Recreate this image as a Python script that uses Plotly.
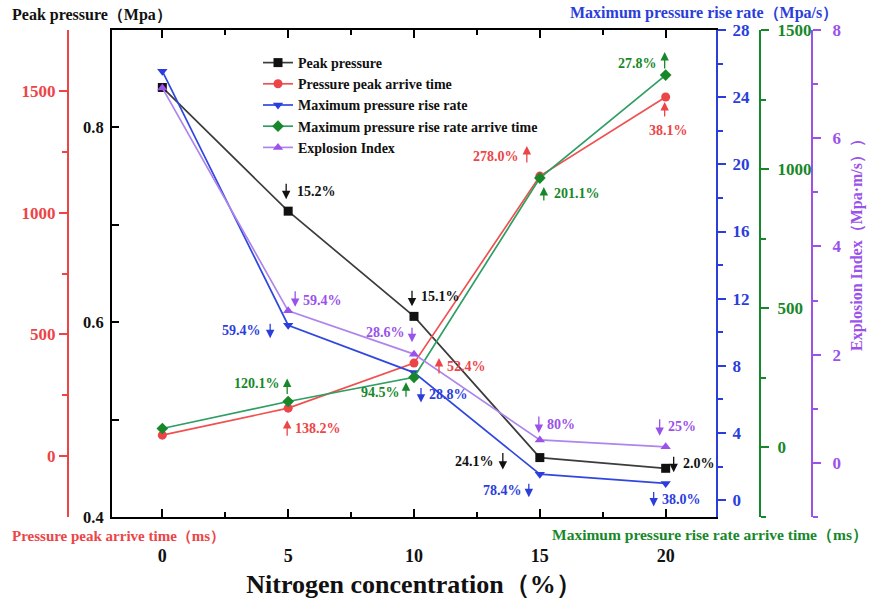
import plotly.graph_objects as go

# ---------------- data ----------------
nitrogen = [0, 5, 10, 15, 20]
peak_pressure = [0.841, 0.714, 0.606, 0.461, 0.450]
peak_time = [86, 197, 382, 1150, 1475]
max_rise_rate = [25.55, 10.42, 7.6, 1.55, 1.0]
rise_time = [68, 165, 252, 968, 1338]
explosion_index = [6.93, 2.81, 2.01, 0.425, 0.296]

peak_labels = ["", "15.2%", "15.1%", "24.1%", "2.0%"]
time_labels = ["", "138.2%", "52.4%", "278.0%", "38.1%"]
rate_labels = ["", "59.4%", "28.8%", "78.4%", "38.0%"]
rtime_labels = ["", "120.1%", "94.5%", "201.1%", "27.8%"]
index_labels = ["", "59.4%", "28.6%", "80%", "25%"]

x_ticks = [0, 5, 10, 15, 20]

# ---------------- styling ----------------
W, H = 872, 604
FONT = "Liberation Serif"
C_BLACK = "#111111"
C_RED = "#EC4548"
C_BLUE = "#2B3EDB"
C_GREEN = "#17882A"
C_PURPLE = "#9A52EA"

fig = go.Figure()

series = [
    ("Peak pressure", peak_pressure, "y", "#3c3c3c", C_BLACK, "square"),
    ("Pressure peak arrive time", peak_time, "y2", "#F05050", C_RED, "circle"),
    ("Maximum pressure rise rate", max_rise_rate, "y3", "#3048E0", C_BLUE, "triangle-down"),
    ("Maximum pressure rise rate arrive time", rise_time, "y4", "#2E9E64", C_GREEN, "diamond"),
    ("Explosion Index", explosion_index, "y5", "#AE85EC", C_PURPLE, "triangle-up"),
]
for name, vals, yax, lc, mc, sym in series:
    fig.add_trace(go.Scatter(
        x=nitrogen, y=vals, name=name, yaxis=yax, mode="lines+markers",
        line=dict(color=lc, width=1.7),
        marker=dict(symbol=sym, size=9, color=mc, line=dict(width=0)),
    ))

# annotation layout: (arrow dx, head dy, arrow len, up?, text anchor, text dx, text dy)
peak_pos = [None, (-2, -12, 17, False, "left", 7, -20), (-2, -10, 17, False, "left", 5, -20),
            (-37, 12, 18, False, "right", -44, 4), (8, 4, 17, False, "left", 15, -5)]
time_pos = [None, (-1, 12, 17, True, "left", 5, 20), (25, -5, 17, True, "left", 31, 3),
            (-13, -30, 18, True, "right", -19, -20), (-1, 5, 16, True, "center", 3, 34)]
rate_pos = [None, (-18, 13, 16, False, "right", -25, 5), (7, 30, 16, False, "left", 13, 22),
            (-11, 23, 15, False, "right", -16, 16), (-12, 23, 16, False, "left", -6, 16)]
rtime_pos = [None, (-1, -23, 17, True, "right", -6, -18), (-8, 5, 16, True, "right", -12, 15),
             (4, 9, 15, True, "left", 12, 15), (-1, -23, 18, True, "right", -7, -12)]
index_pos = [None, (7, -4, 17, False, "left", 13, -10), (-2, -12, 16, False, "right", -7, -22),
             (-1, -7, 18, False, "left", 5, -15), (-6, -11, 18, False, "left", 0, -20)]

annots = []
for labels, vals, yref, col, pos in [
    (peak_labels, peak_pressure, "y", C_BLACK, peak_pos),
    (time_labels, peak_time, "y2", C_RED, time_pos),
    (rate_labels, max_rise_rate, "y3", C_BLUE, rate_pos),
    (rtime_labels, rise_time, "y4", C_GREEN, rtime_pos),
    (index_labels, explosion_index, "y5", C_PURPLE, index_pos),
]:
    for xv, yv, lab, p in zip(nitrogen, vals, labels, pos):
        if not lab:
            continue
        adx, hdy, alen, up, anc, tdx, tdy = p
        annots.append(dict(x=xv, y=yv, xref="x", yref=yref, text="", showarrow=True,
                           xshift=adx, yshift=-hdy, ax=0, ay=(alen if up else -alen),
                           arrowhead=2, arrowsize=1.3, arrowwidth=1.3, arrowcolor=col,
                           standoff=0, startstandoff=0))
        annots.append(dict(x=xv, y=yv, xref="x", yref=yref, text=lab, showarrow=False,
                           xanchor=anc, yanchor="middle", xshift=tdx, yshift=-tdy,
                           font=dict(family=FONT, size=14, color=col, weight="bold")))

ML, MT, MB = 0, 30, 87
PH = H - MT - MB


def px(xp):
    return xp / W


def py(yp):
    return (H - MB - yp) / PH


titles = [
    ("Peak pressure（Mpa）", 10, 15, "left", C_BLACK, 0, 16),
    ("Pressure peak arrive time（ms）", 10, 536, "left", C_RED, 0, 15),
    ("Maximum pressure rise rate（Mpa/s）", 840, 13, "right", C_BLUE, 0, 16),
    ("Maximum pressure rise rate arrive time（ms）", 870, 535, "right", C_GREEN, 0, 15.5),
    ("Explosion Index（Mpa·m/s））", 857, 241, "center", C_PURPLE, -90, 16),
]
for t, xx, yy, anc, col, ang, fs in titles:
    annots.append(dict(x=px(xx), y=py(yy), xref="paper", yref="paper", text=t, showarrow=False,
                       xanchor=anc, yanchor="middle", textangle=ang,
                       font=dict(family=FONT, size=fs, color=col, weight="bold")))


def yax(col, rng, tickvals, minor_vals, **kw):
    d = dict(range=rng, tickmode="array", tickvals=tickvals,
             ticks="outside", ticklen=8, tickwidth=1.5, tickcolor=col,
             showline=True, linecolor=col, linewidth=2, showgrid=False, zeroline=False,
             tickfont=dict(family=FONT, size=17, color=col, weight="bold"),
             minor=dict(tickmode="array", tickvals=minor_vals, ticks="outside", ticklen=5,
                        tickcolor=col, tickwidth=1.5, showgrid=False))
    d.update(kw)
    return d


fig.update_layout(
    width=W, height=H, margin=dict(l=ML, r=0, t=MT, b=MB),
    paper_bgcolor="white", plot_bgcolor="white",
    font=dict(family=FONT, size=14, color=C_BLACK),
    showlegend=True,
    legend=dict(x=px(258), y=py(47), xanchor="left", yanchor="top",
                bgcolor="rgba(0,0,0,0)", borderwidth=0, itemwidth=30,
                font=dict(family=FONT, size=14, color=C_BLACK, weight="bold"),
                tracegroupgap=0),
    xaxis=dict(domain=[px(112), px(716)], range=[-2, 22], tickmode="array", tickvals=x_ticks,
               ticks="inside", ticklen=8, tickwidth=1.5, tickcolor="black",
               showline=True, linecolor="black", linewidth=2, mirror="ticks",
               showgrid=False, zeroline=False, ticklabelstandoff=21,
               tickfont=dict(family=FONT, size=18, color=C_BLACK, weight="bold"),
               minor=dict(tickmode="array", tickvals=[2.5, 7.5, 12.5, 17.5], ticks="inside",
                          ticklen=5, tickcolor="black", tickwidth=1.5, showgrid=False),
               title=dict(text="Nitrogen concentration（%）", standoff=10,
                          font=dict(family=FONT, size=26, color=C_BLACK, weight="bold"))),
    yaxis=yax("black", [0.4, 0.9], [0.4, 0.6, 0.8], [0.5, 0.7], ticks="inside", ticklen=7,
              ticklabelstandoff=3,
              tickfont=dict(family=FONT, size=16.5, color=C_BLACK, weight="bold"),
              minor=dict(tickmode="array", tickvals=[0.5, 0.7], ticks="inside", ticklen=7,
                         tickcolor="black", tickwidth=1.5, showgrid=False)),
    yaxis2=yax(C_RED, [-250, 1750], [0, 500, 1000, 1500], [250, 750, 1250],
               overlaying="y", anchor="free", position=px(68), side="left"),
    yaxis3=yax(C_BLUE, [-1, 28], list(range(0, 29, 4)), list(range(2, 28, 4)),
               overlaying="y", anchor="x", side="right", ticklabelstandoff=3),
    yaxis4=yax(C_GREEN, [-250, 1500], [0, 500, 1000, 1500], [-250, 250, 750, 1250],
               overlaying="y", anchor="free", position=px(760), side="right",
               ticklabelstandoff=5),
    yaxis5=yax(C_PURPLE, [-1, 8], [0, 2, 4, 6, 8], [-1, 1, 3, 5, 7],
               overlaying="y", anchor="free", position=px(812), side="right",
               ticklabelstandoff=8),
    annotations=annots,
)

fig.write_html("out.html")
